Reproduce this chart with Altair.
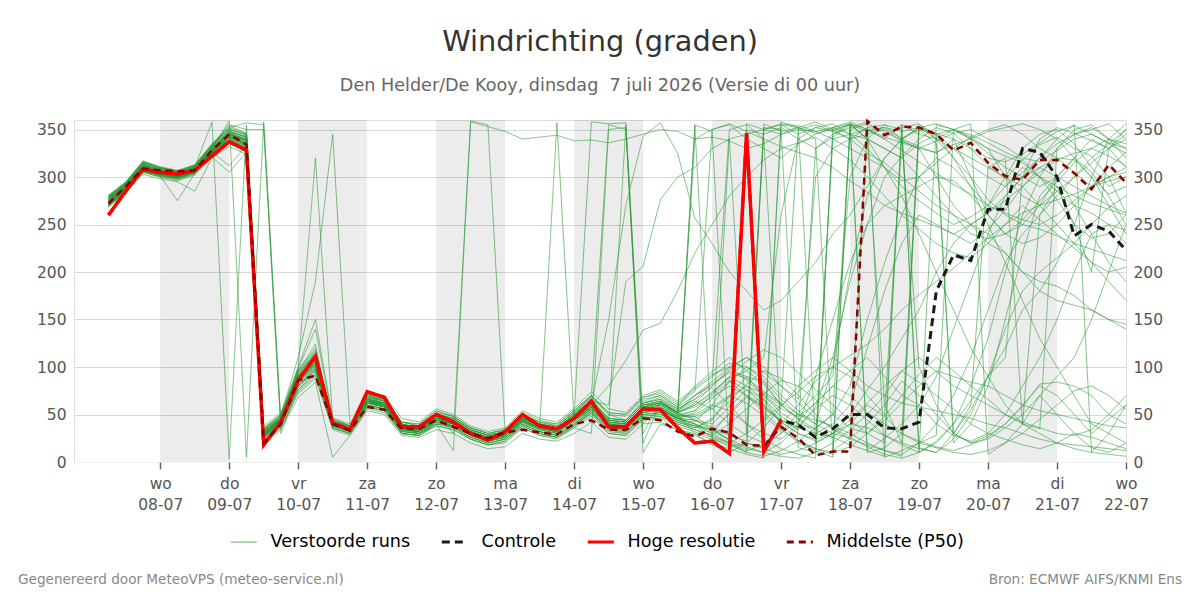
import altair as alt
import pandas as pd

# ---------------------------------------------------------------- text
title_text = "Windrichting (graden)"
subtitle_text = "Den Helder/De Kooy, dinsdag \u00a07 juli 2026 (Versie di 00 uur)"
footer_left = "Gegenereerd door MeteoVPS (meteo-service.nl)"
footer_right = "Bron: ECMWF AIFS/KNMI Ens"

series_names = ["Verstoorde runs", "Controle", "Hoge resolutie", "Middelste (P50)"]
series_colors = ["rgba(38,152,52,0.6)", "#1a1a1a", "#ff0000", "#8b0000"]
series_dashes = [[1, 0], [8, 5], [1, 0], [7, 5]]

# x-axis ticks (00 uur) with their two-line labels
tick_dates = ["2026-07-08", "2026-07-09", "2026-07-10", "2026-07-11", "2026-07-12",
              "2026-07-13", "2026-07-14", "2026-07-15", "2026-07-16", "2026-07-17",
              "2026-07-18", "2026-07-19", "2026-07-20", "2026-07-21", "2026-07-22"]
tick_days = ["wo", "do", "vr", "za", "zo", "ma", "di", "wo", "do", "vr", "za", "zo", "ma", "di", "wo"]
tick_labels = ["08-07", "09-07", "10-07", "11-07", "12-07", "13-07", "14-07", "15-07",
               "16-07", "17-07", "18-07", "19-07", "20-07", "21-07", "22-07"]
y_ticks = [0, 50, 100, 150, 200, 250, 300, 350]

# grey day bands
band_start = ["2026-07-08", "2026-07-10", "2026-07-12", "2026-07-14", "2026-07-16", "2026-07-18", "2026-07-20"]
band_end = ["2026-07-09", "2026-07-11", "2026-07-13", "2026-07-15", "2026-07-17", "2026-07-19", "2026-07-21"]

# ---------------------------------------------------------------- series (6-hourly from 7 juli 06 uur)
hres = [260, 285, 308, 305, 303, 307, 322, 337, 328,
        18, 42, 86, 111, 41, 34, 74, 68,
        37, 37, 50, 42, 30, 23, 32, 50, 38, 35, 46, 64, 37, 37, 56, 55, 36,
        20, 22, 9, 346, 11, 44]

controle = [260, 285, 308, 305, 303, 307, 322, 337, 328,
            18, 42, 86, 111, 41, 34, 74, 68,
            37, 37, 50, 42, 30, 23, 32, 50, 38, 35, 46, 64, 37, 37, 56, 55, 36,
            20, 22, 9, 346, 11, 44, 39, 26, 35, 50, 50, 36, 35, 42, 180, 218,
            212, 266, 266, 330, 326, 300, 238, 250, 243, 223]

p50 = [272, 290, 309, 307, 306, 307, 328, 345, 334,
       20, 40, 86, 91, 40, 33, 58, 55,
       35, 35, 44, 37, 30, 25, 31, 34, 31, 29, 40, 44, 34, 34, 46, 44, 32,
       27, 35, 31, 18, 17, 37, 25, 7, 11, 11, 359, 344, 353, 352, 345, 328,
       336, 315, 301, 297, 318, 318, 304, 287, 313, 294]

members = {
    "m01": [272, 288, 310, 304, 302, 308, 326, 342, 336,
            25, 40, 88, 112, 38, 32, 66, 62,
            36, 34, 48, 40, 28, 22, 26, 42, 34, 30, 44, 58, 36, 34, 52, 56, 44,
            38, 30, 52, 70, 60, 44, 36, 58, 110, 190, 250, 300, 322, 340, 352, 346,
            330, 312, 298, 318, 334, 342, 330, 322, 300, 262],
    "m02": [278, 292, 314, 308, 304, 310, 358, 3, 355,
            30, 46, 80, 98, 44, 36, 70, 64,
            38, 30, 44, 44, 32, 26, 32, 48, 40, 36, 48, 62, 40, 40, 58, 60, 50,
            30, 18, 10, 356, 350, 345, 352, 340, 12, 25, 40, 60, 85, 70, 50, 30,
            20, 28, 40, 60, 80, 70, 50, 30, 45, 60],
    "m03": [270, 286, 306, 302, 300, 306, 330, 359, 5,
            358, 42, 76, 92, 46, 38, 62, 58,
            34, 32, 42, 36, 26, 20, 24, 40, 32, 28, 40, 54, 34, 30, 50, 52, 42,
            36, 44, 70, 90, 84, 60, 350, 355, 348, 340, 345, 350, 338, 330, 326, 334,
            340, 348, 352, 356, 350, 340, 320, 300, 282, 290],
    "m04": [280, 294, 316, 310, 306, 312, 334, 352, 357,
            355, 38, 96, 124, 36, 30, 68, 66,
            42, 38, 50, 46, 34, 28, 30, 46, 38, 34, 50, 66, 44, 42, 60, 64, 52,
            60, 72, 90, 80, 66, 40, 22, 14, 8, 355, 348, 352, 340, 332, 325, 340,
            300, 260, 240, 250, 270, 300, 320, 305, 280, 250],
    "m05": [274, 289, 309, 303, 298, 304, 324, 338, 330,
            22, 38, 100, 320, 44, 38, 72, 64,
            30, 28, 40, 38, 24, 18, 22, 38, 30, 26, 38, 52, 30, 28, 46, 48, 40,
            34, 28, 20, 12, 18, 30, 44, 62, 80, 96, 110, 90, 70, 60, 40, 28,
            22, 30, 50, 80, 110, 150, 200, 240, 250, 230],
    "m06": [277, 291, 311, 305, 301, 307, 328, 344, 339,
            35, 50, 110, 190, 345, 40, 60, 56,
            40, 36, 52, 44, 30, 24, 30, 46, 40, 38, 52, 70, 50, 44, 64, 70, 58,
            80, 95, 110, 96, 82, 60, 45, 30, 40, 60, 120, 180, 230, 260, 250, 240,
            230, 245, 265, 290, 310, 320, 318, 300, 270, 240],
    "m07": [271, 287, 307, 301, 299, 305, 325, 340, 333,
            28, 44, 84, 104, 42, 36, 64, 58,
            32, 30, 40, 12, 359, 355, 30, 44, 36, 32, 42, 56, 38, 36, 54, 54, 46,
            44, 40, 58, 76, 66, 48, 36, 30, 26, 40, 60, 48, 30, 20, 15, 10,
            8, 12, 20, 30, 45, 60, 75, 80, 70, 55],
    "m08": [275, 290, 312, 306, 303, 309, 330, 346, 340,
            32, 46, 90, 108, 40, 34, 66, 62,
            36, 34, 50, 30, 358, 353, 348, 340, 342, 344, 338, 339, 336, 340, 345, 350, 348,
            340, 342, 338, 330, 335, 345, 350, 348, 352, 356, 350, 342, 336, 330, 338, 346,
            350, 340, 332, 320, 316, 328, 340, 345, 336, 330],
    "m09": [273, 288, 308, 304, 301, 306, 327, 341, 334,
            27, 42, 82, 100, 38, 33, 62, 60,
            34, 32, 46, 40, 30, 24, 28, 42, 36, 357, 44, 58, 38, 36, 52, 56, 46,
            40, 34, 50, 68, 58, 42, 30, 24, 30, 44, 62, 80, 96, 110, 95, 80,
            70, 60, 50, 42, 36, 30, 28, 34, 50, 70],
    "m10": [279, 293, 315, 309, 305, 311, 332, 348, 342,
            34, 48, 94, 116, 42, 36, 70, 66,
            40, 36, 50, 46, 34, 28, 32, 48, 40, 36, 50, 358, 356, 357, 20, 62, 52,
            70, 80, 96, 90, 70, 52, 40, 35, 50, 80, 150, 210, 260, 300, 320, 310,
            290, 270, 300, 330, 345, 350, 335, 310, 290, 300],
    "m11": [269, 285, 305, 300, 297, 303, 322, 336, 328,
            20, 36, 72, 88, 36, 30, 58, 54,
            30, 28, 38, 34, 24, 18, 20, 36, 28, 26, 36, 30, 350, 352, 10, 40, 34,
            30, 24, 18, 10, 350, 355, 345, 352, 348, 356, 340, 330, 320, 335, 345, 350,
            342, 330, 300, 280, 270, 285, 300, 315, 330, 340],
    "m12": [276, 290, 311, 305, 302, 308, 329, 345, 337,
            30, 45, 86, 106, 40, 34, 66, 60,
            38, 34, 48, 42, 32, 26, 30, 46, 38, 34, 48, 64, 60, 190, 206, 276, 300,
            310, 330, 340, 345, 350, 356, 354, 348, 340, 330, 320, 310, 296, 300, 315, 330,
            342, 350, 355, 345, 330, 320, 305, 290, 300, 310],
    "m13": [272, 287, 309, 303, 300, 306, 326, 340, 332,
            26, 42, 84, 102, 42, 36, 62, 58,
            34, 32, 44, 40, 30, 24, 28, 44, 36, 32, 46, 60, 80, 107, 139, 146, 180,
            220, 250, 280, 300, 318, 330, 336, 342, 330, 318, 300, 280, 260, 245, 230, 220,
            215, 230, 250, 270, 255, 240, 225, 210, 200, 205],
    "m14": [274, 289, 310, 304, 302, 307, 327, 343, 336,
            29, 44, 88, 110, 40, 35, 64, 60,
            36, 34, 46, 42, 30, 24, 30, 46, 38, 34, 48, 62, 150, 270, 343, 357, 325,
            257, 230, 200, 180, 160, 170, 190, 210, 240, 260, 290, 320, 340, 352, 345, 330,
            312, 300, 290, 305, 320, 335, 345, 350, 356, 340],
    "m15": [281, 295, 317, 311, 307, 313, 335, 354, 346,
            38, 52, 100, 150, 46, 40, 74, 70,
            46, 42, 56, 50, 38, 32, 36, 54, 46, 42, 56, 74, 56, 52, 70, 76, 64,
            78, 92, 100, 86, 70, 56, 48, 62, 80, 70, 52, 40, 30, 22, 16, 12,
            18, 26, 40, 58, 82, 84, 80, 70, 50, 40],
    "m16": [268, 284, 303, 298, 295, 285, 320, 332, 324,
            18, 34, 68, 84, 5, 28, 54, 50,
            28, 26, 34, 30, 20, 14, 16, 30, 24, 22, 30, 42, 26, 24, 40, 42, 34,
            28, 20, 14, 8, 4, 358, 352, 346, 350, 355, 340, 310, 280, 240, 200, 160,
            120, 90, 60, 40, 30, 20, 14, 10, 8, 6],
    "m17": [275, 290, 309, 305, 303, 309, 331, 349, 341,
            33, 47, 92, 114, 40, 36, 68, 62,
            38, 36, 50, 44, 34, 28, 32, 48, 40, 36, 50, 66, 46, 44, 62, 68, 56,
            66, 84, 100, 110, 94, 80, 66, 300, 330, 340, 352, 355, 340, 100, 60, 30,
            20, 24, 36, 50, 70, 90, 110, 150, 200, 250],
    "m18": [273, 289, 311, 306, 304, 310, 333, 350, 344,
            31, 45, 90, 112, 38, 34, 64, 62,
            36, 34, 46, 40, 30, 24, 30, 44, 36, 32, 44, 58, 40, 38, 56, 60, 50,
            54, 70, 86, 76, 60, 42, 30, 22, 340, 345, 350, 352, 348, 352, 340, 330,
            320, 310, 300, 290, 270, 250, 230, 210, 190, 170],
    "m19": [277, 292, 313, 307, 303, 309, 329, 346, 339,
            28, 42, 86, 106, 42, 36, 66, 60,
            38, 34, 46, 42, 32, 26, 30, 44, 36, 32, 44, 56, 42, 40, 58, 62, 50,
            48, 36, 22, 14, 10, 20, 38, 56, 70, 60, 44, 28, 18, 10, 355, 350,
            340, 325, 310, 300, 290, 300, 320, 340, 330, 310],
    "m20": [270, 286, 308, 302, 299, 305, 325, 339, 331,
            24, 40, 80, 98, 38, 32, 60, 56,
            32, 30, 42, 38, 28, 22, 26, 40, 32, 28, 40, 52, 34, 32, 48, 50, 42,
            36, 46, 64, 82, 96, 88, 70, 50, 34, 24, 18, 12, 8, 20, 40, 70,
            110, 160, 210, 240, 260, 280, 300, 320, 335, 350],
    "m21": [279, 294, 314, 309, 305, 310, 331, 347, 343,
            36, 50, 98, 140, 44, 38, 70, 68,
            42, 40, 54, 48, 36, 30, 34, 50, 42, 40, 54, 70, 52, 50, 68, 74, 62,
            76, 90, 104, 100, 86, 66, 50, 40, 100, 200, 280, 320, 340, 352, 356, 350,
            344, 336, 326, 318, 300, 276, 250, 236, 240, 260],
    "m22": [272, 288, 309, 303, 301, 306, 326, 312, 333,
            26, 43, 84, 102, 40, 34, 64, 58,
            34, 32, 44, 40, 30, 24, 28, 42, 34, 30, 44, 58, 38, 36, 52, 56, 46,
            40, 32, 24, 16, 10, 6, 4, 10, 20, 34, 50, 70, 96, 84, 70, 56,
            40, 30, 24, 18, 14, 20, 30, 26, 20, 14],
    "m23": [276, 291, 312, 306, 302, 307, 327, 343, 335,
            30, 46, 90, 110, 42, 36, 68, 62,
            38, 36, 48, 44, 32, 26, 30, 46, 38, 34, 48, 62, 44, 42, 60, 62, 52,
            60, 74, 88, 96, 110, 260, 340, 352, 356, 345, 330, 310, 290, 275, 262, 250,
            258, 270, 290, 310, 300, 285, 270, 262, 250, 244],
    "m24": [271, 287, 306, 301, 275, 304, 323, 337, 329,
            22, 38, 76, 94, 36, 30, 58, 54,
            30, 28, 40, 36, 26, 20, 24, 38, 30, 26, 38, 50, 32, 30, 46, 48, 40,
            34, 28, 40, 56, 72, 86, 80, 66, 50, 36, 30, 44, 62, 80, 96, 90,
            84, 80, 70, 60, 54, 50, 46, 42, 38, 36],
    "m25": [278, 292, 313, 307, 304, 309, 330, 346, 338,
            32, 47, 94, 114, 40, 36, 68, 64,
            40, 36, 50, 46, 34, 28, 32, 48, 40, 36, 50, 64, 46, 44, 62, 66, 54,
            64, 56, 40, 28, 20, 355, 352, 358, 350, 340, 325, 315, 300, 285, 270, 260,
            250, 240, 220, 200, 180, 170, 165, 160, 150, 140],
    "m26": [274, 289, 310, 305, 302, 308, 328, 342, 334,
            28, 44, 86, 108, 40, 34, 66, 60,
            36, 34, 46, 42, 30, 24, 28, 44, 36, 32, 46, 60, 40, 38, 56, 58, 48,
            50, 60, 54, 40, 30, 24, 40, 90, 150, 210, 250, 270, 280, 290, 300, 296,
            280, 260, 240, 230, 236, 250, 270, 290, 310, 326],
    "m27": [280, 294, 316, 310, 306, 312, 333, 350, 344,
            34, 49, 96, 118, 42, 38, 72, 66,
            42, 38, 52, 48, 36, 30, 34, 50, 42, 38, 52, 68, 50, 48, 66, 70, 58,
            70, 82, 94, 88, 74, 62, 50, 44, 38, 30, 20, 12, 6, 352, 346, 340,
            330, 320, 316, 324, 336, 348, 354, 345, 335, 325],
    "m28": [273, 288, 309, 303, 300, 306, 327, 342, 335,
            27, 42, 86, 104, 40, 34, 64, 58,
            36, 32, 46, 40, 30, 24, 28, 44, 36, 32, 44, 58, 38, 36, 54, 56, 46,
            44, 36, 30, 20, 14, 8, 12, 20, 30, 40, 36, 28, 20, 14, 10, 24,
            50, 90, 140, 180, 200, 215, 230, 250, 268, 280],
    "m29": [275, 291, 311, 305, 302, 307, 328, 344, 337,
            30, 45, 88, 108, 40, 34, 66, 60,
            38, 34, 48, 42, 30, 24, 30, 46, 38, 34, 48, 62, 42, 40, 58, 62, 52,
            340, 350, 356, 348, 340, 332, 326, 320, 310, 296, 284, 270, 262, 255, 248, 240,
            250, 262, 275, 290, 305, 318, 325, 330, 322, 312],
    "m30": [269, 285, 305, 300, 296, 302, 321, 305, 326,
            20, 36, 74, 90, 34, 28, 56, 52,
            30, 28, 38, 34, 24, 18, 22, 36, 28, 24, 36, 48, 30, 28, 44, 46, 38,
            32, 26, 20, 30, 44, 60, 74, 90, 100, 112, 124, 140, 160, 176, 190, 204,
            220, 236, 250, 262, 270, 276, 282, 290, 296, 300],
    "m31": [277, 292, 312, 307, 303, 308, 329, 345, 338,
            31, 46, 90, 110, 40, 36, 66, 62,
            38, 34, 48, 42, 32, 26, 30, 44, 36, 34, 48, 62, 44, 42, 60, 64, 52,
            58, 68, 80, 70, 56, 44, 34, 330, 345, 352, 358, 5, 12, 20, 28, 350,
            340, 330, 322, 315, 300, 290, 280, 272, 266, 260],
    "m32": [274, 290, 310, 304, 301, 307, 327, 342, 335,
            29, 44, 88, 108, 40, 34, 64, 60,
            36, 34, 46, 42, 30, 24, 28, 44, 36, 32, 46, 60, 40, 38, 56, 60, 50,
            46, 56, 68, 80, 72, 60, 46, 34, 26, 18, 12, 6, 352, 356, 340, 320,
            300, 276, 260, 250, 245, 238, 230, 224, 218, 212],
    "m33": [276, 291, 313, 308, 305, 311, 333, 355, 350,
            350, 30, 80, 96, 38, 34, 62, 58,
            36, 32, 44, 38, 28, 22, 28, 44, 36, 32, 46, 60, 42, 355, 40, 58, 48,
            354, 20, 340, 30, 352, 350, 15, 10, 345, 356, 340, 60, 20, 350, 335, 30,
            60, 310, 320, 40, 260, 290, 250, 200, 330, 350],
    "m34": [271, 286, 307, 302, 299, 304, 324, 338, 331,
            24, 40, 82, 100, 38, 32, 60, 56,
            34, 30, 42, 38, 28, 22, 26, 40, 32, 28, 40, 54, 36, 34, 50, 52, 44,
            42, 60, 85, 70, 52, 36, 20, 12, 5, 355, 10, 15, 30, 355, 345, 20,
            40, 80, 150, 220, 280, 300, 270, 240, 210, 190],
    "m35": [279, 293, 315, 309, 306, 312, 334, 351, 345,
            33, 47, 92, 115, 42, 36, 70, 64,
            40, 36, 50, 46, 34, 28, 32, 50, 42, 38, 52, 68, 355, 350, 30, 64, 54,
            70, 85, 350, 355, 340, 30, 52, 70, 90, 300, 340, 355, 350, 10, 20, 40,
            80, 130, 200, 260, 300, 330, 350, 355, 340, 320],
    "m36": [273, 288, 309, 304, 301, 307, 328, 343, 335,
            27, 42, 86, 104, 40, 34, 64, 58,
            36, 32, 46, 40, 30, 24, 28, 44, 36, 32, 46, 58, 38, 36, 54, 56, 46,
            52, 66, 84, 100, 90, 70, 54, 40, 30, 25, 350, 340, 355, 15, 10, 30,
            55, 90, 120, 160, 180, 210, 250, 300, 340, 356],
    "m37": [277, 292, 312, 306, 303, 308, 330, 347, 340,
            30, 45, 88, 108, 40, 35, 66, 60,
            38, 34, 48, 42, 30, 24, 30, 46, 38, 34, 48, 62, 42, 40, 58, 62, 52,
            355, 348, 10, 20, 15, 40, 60, 85, 100, 90, 70, 50, 340, 350, 345, 320,
            290, 250, 210, 170, 130, 100, 70, 40, 30, 20],
    "m38": [270, 285, 306, 301, 298, 304, 324, 338, 330,
            23, 39, 78, 96, 36, 30, 58, 54,
            32, 30, 40, 36, 26, 20, 24, 38, 30, 26, 38, 52, 34, 32, 48, 50, 42,
            38, 34, 28, 22, 356, 348, 352, 20, 30, 50, 76, 100, 130, 160, 200, 230,
            250, 262, 280, 300, 320, 340, 355, 10, 30, 60],
    "m39": [275, 290, 311, 305, 302, 308, 329, 345, 338,
            30, 44, 88, 108, 40, 34, 66, 60,
            38, 34, 48, 42, 30, 24, 30, 46, 38, 34, 48, 62, 44, 42, 60, 64, 52,
            62, 80, 98, 110, 100, 80, 62, 46, 36, 26, 16, 8, 4, 10, 22, 40,
            64, 90, 110, 300, 340, 352, 346, 338, 330, 345],
    "m40": [272, 287, 308, 303, 300, 305, 326, 340, 333,
            26, 42, 84, 102, 40, 34, 62, 58,
            34, 32, 44, 40, 30, 24, 28, 42, 34, 30, 44, 56, 38, 36, 52, 54, 46,
            40, 30, 20, 10, 6, 12, 22, 36, 50, 350, 356, 348, 338, 330, 300, 270,
            250, 230, 220, 200, 190, 185, 175, 160, 150, 145],
    "m41": [278, 293, 314, 308, 304, 310, 331, 348, 342,
            32, 46, 92, 112, 42, 36, 68, 64,
            40, 36, 50, 44, 32, 26, 32, 48, 40, 36, 50, 64, 46, 44, 62, 66, 56,
            66, 78, 60, 40, 24, 14, 8, 4, 352, 345, 340, 330, 320, 300, 280, 260,
            240, 235, 240, 255, 275, 295, 315, 330, 340, 335],
    "m42": [274, 289, 310, 304, 301, 306, 327, 342, 335,
            28, 43, 86, 106, 40, 34, 64, 60,
            36, 34, 46, 42, 30, 24, 28, 44, 36, 32, 46, 60, 40, 38, 56, 58, 48,
            54, 72, 90, 106, 118, 110, 94, 76, 60, 44, 30, 20, 355, 345, 340, 350,
            356, 8, 20, 40, 70, 50, 30, 15, 10, 20],
    "m43": [280, 294, 316, 310, 306, 312, 334, 352, 346,
            35, 49, 96, 120, 44, 38, 72, 68,
            42, 40, 54, 48, 36, 30, 34, 52, 44, 40, 54, 70, 52, 50, 68, 72, 60,
            74, 350, 355, 340, 330, 320, 335, 345, 352, 358, 350, 340, 328, 316, 304, 292,
            282, 270, 262, 255, 250, 260, 275, 290, 300, 305],
    "m44": [271, 286, 307, 302, 299, 305, 325, 339, 331,
            25, 41, 80, 98, 38, 32, 60, 56,
            33, 30, 42, 38, 28, 22, 26, 40, 32, 28, 42, 55, 36, 34, 50, 52, 44,
            38, 26, 16, 20, 36, 58, 80, 96, 110, 96, 80, 70, 62, 58, 54, 50,
            46, 40, 36, 30, 24, 20, 18, 16, 14, 12],
    "m45": [276, 291, 312, 306, 303, 309, 330, 346, 339,
            30, 45, 90, 110, 40, 35, 66, 62,
            38, 34, 48, 42, 32, 26, 30, 46, 38, 34, 48, 62, 42, 40, 58, 62, 52,
            44, 34, 24, 350, 345, 352, 340, 330, 342, 355, 12, 25, 40, 60, 90, 140,
            190, 240, 280, 300, 310, 300, 290, 280, 270, 262],
    "m46": [273, 288, 309, 304, 300, 306, 327, 342, 334,
            28, 43, 85, 104, 40, 34, 64, 58,
            36, 33, 46, 40, 30, 24, 28, 43, 35, 31, 45, 58, 39, 37, 54, 57, 47,
            48, 58, 70, 62, 48, 34, 22, 14, 10, 16, 30, 48, 70, 92, 110, 96,
            80, 66, 50, 40, 35, 330, 345, 352, 340, 330],
}

# ---------------------------------------------------------------- tables
steps = pd.date_range("2026-07-07 06:00", periods=60, freq="6h", tz="UTC")
stamps = [s.strftime("%Y-%m-%dT%H:%M:%SZ") for s in steps]

for name, vals in members.items():
    assert len(vals) == 60, (name, len(vals))
assert len(controle) == 60 and len(p50) == 60 and len(hres) == 40

ens_rows = []
for name, vals in members.items():
    for t, v in zip(stamps, vals):
        ens_rows.append({"t": t, "v": v, "run": name, "serie": series_names[0]})
ens_df = pd.DataFrame(ens_rows)
ctrl_df = pd.DataFrame({"t": stamps, "v": controle, "serie": series_names[1]})
hres_df = pd.DataFrame({"t": stamps[:len(hres)], "v": hres, "serie": series_names[2]})
p50_df = pd.DataFrame({"t": stamps, "v": p50, "serie": series_names[3]})
band_df = pd.DataFrame({"start": [d + "T00:00:00Z" for d in band_start],
                        "end": [d + "T00:00:00Z" for d in band_end]})
foot_df = pd.DataFrame({"links": [footer_left], "rechts": [footer_right]})


def ms(s):
    return int(pd.Timestamp(s, tz="UTC").value // 1_000_000)


tick_ms = [ms(d) for d in tick_dates]
x_domain = [ms("2026-07-06 18:00"), ms("2026-07-22 00:00")]
day_ms = 86_400_000
label_expr = (
    f"[{tick_days}[round((datum.value - {tick_ms[0]}) / {day_ms})], "
    f"{tick_labels}[round((datum.value - {tick_ms[0]}) / {day_ms})]]"
)

FONT = "DejaVu Sans"

x_axis = alt.Axis(values=tick_ms, labelExpr=label_expr, title=None, grid=False, domain=False,
                  ticks=True, tickSize=7, tickColor="#666666", tickWidth=1.5,
                  labelFontSize=15.5, labelColor="#555555", labelFont=FONT,
                  labelLineHeight=21, labelPadding=7, labelAngle=0, labelAlign="center",
                  labelBaseline="top", labelFlush=False, labelOverlap=False)
x_scale = alt.Scale(type="utc", domain=x_domain, nice=False)
x_enc = alt.X("t:T", scale=x_scale, axis=x_axis)

y_scale = alt.Scale(domain=[0, 360], nice=False, zero=True)
y_left = alt.Axis(values=y_ticks, title=None, grid=True,
                  gridColor={"condition": {"test": "datum.value === 0", "value": "#f2f2f2"},
                             "value": "#dadada"},
                  gridWidth=1, domain=False, ticks=False, labelFontSize=15.5,
                  labelColor="#555555", labelFont=FONT, labelPadding=8)
y_right = alt.Axis(values=y_ticks, title=None, grid=False, domain=False, ticks=False,
                   orient="right", labelFontSize=15.5, labelColor="#555555",
                   labelFont=FONT, labelPadding=7)

legend = alt.Legend(
    title=None, orient="none", legendX=161, legendY=413, direction="horizontal",
    symbolType="stroke", symbolSize=676, labelFontSize=17.6, labelFont=FONT,
    labelColor="#000000", columnPadding=24, labelOffset=18,
    symbolStrokeWidth=alt.ExprRef(expr="datum.label === 'Verstoorde runs' ? 1.2 : 3"),
)
color_enc = alt.Color("serie:N", scale=alt.Scale(domain=series_names, range=series_colors), legend=legend)
dash_enc = alt.StrokeDash("serie:N", scale=alt.Scale(domain=series_names, range=series_dashes), legend=legend)

bands = alt.Chart(band_df).mark_rect(color="#000000", opacity=0.075).encode(
    x=alt.X("start:T", scale=x_scale, axis=x_axis), x2="end:T"
)

ens = alt.Chart(ens_df).mark_line(strokeWidth=1).encode(
    x=x_enc, y=alt.Y("v:Q", scale=y_scale, axis=y_left),
    detail="run:N", color=color_enc, strokeDash=dash_enc,
)
ctrl = alt.Chart(ctrl_df).mark_line(strokeWidth=3).encode(
    x=x_enc, y=alt.Y("v:Q", scale=y_scale, axis=None), color=color_enc, strokeDash=dash_enc,
)
hr = alt.Chart(hres_df).mark_line(strokeWidth=3.5).encode(
    x=x_enc, y=alt.Y("v:Q", scale=y_scale, axis=None), color=color_enc, strokeDash=dash_enc,
)
med = alt.Chart(p50_df).mark_line(strokeWidth=2.5).encode(
    x=x_enc, y=alt.Y("v:Q", scale=y_scale, axis=y_right), color=color_enc, strokeDash=dash_enc,
)

foot_l = alt.Chart(foot_df).mark_text(align="left", baseline="middle", fontSize=13.6,
                                      color="#888888", font=FONT).encode(
    text="links:N", x=alt.value(-56), y=alt.value(460))
foot_r = alt.Chart(foot_df).mark_text(align="right", baseline="middle", fontSize=13.6,
                                      color="#888888", font=FONT).encode(
    text="rechts:N", x=alt.value(1108), y=alt.value(460))

chart = (
    alt.layer(bands, ens, ctrl, hr, med, foot_l, foot_r)
    .resolve_axis(y="independent")
    .properties(
        width=1052, height=342,
        padding={"left": 74, "top": 120, "right": 74, "bottom": 138},
        autosize=alt.AutoSizeParams(type="none"),
        title=alt.TitleParams(
            text=title_text, subtitle=subtitle_text, anchor="middle",
            font=FONT, fontSize=28.8, fontWeight="normal", color="#333333",
            subtitleFont=FONT, subtitleFontSize=17.6, subtitleColor="#666666",
            subtitlePadding=21, offset=21,
        ),
    )
    .configure_view(stroke=None)
    .configure(background="white", font=FONT)
)

chart.save("out.html", embed_options={"renderer": "svg", "actions": False})
